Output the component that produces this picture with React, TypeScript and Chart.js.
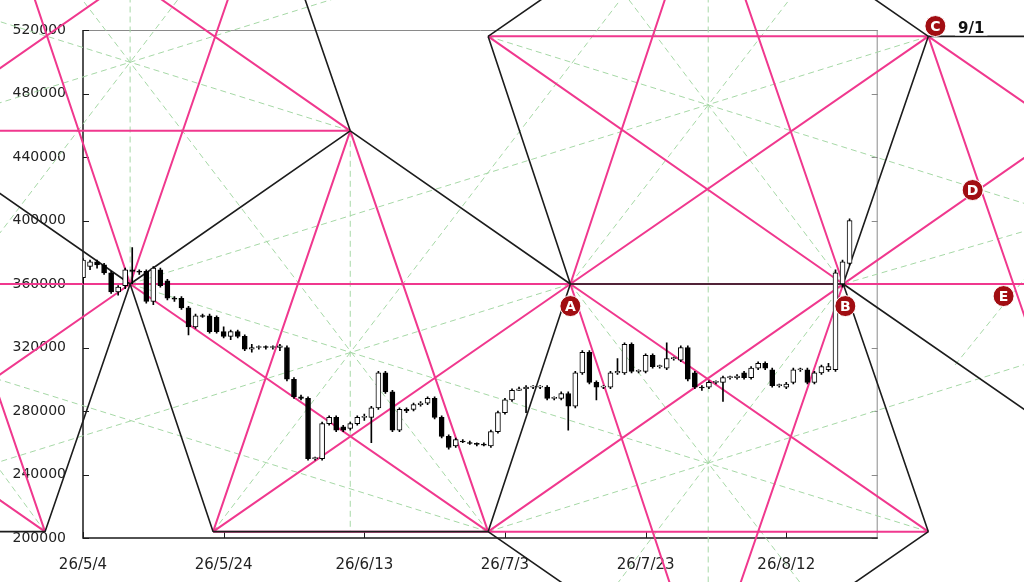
import React, { useEffect, useRef } from "react";
import { Chart, registerables } from "chart.js";

Chart.register(...registerables);

// ---- axis ticks (x = days since 26/5/4) ----
const tickDays = [0, 20, 40, 60, 80, 100];
const tickLabels = ["26/5/4", "26/5/24", "26/6/13", "26/7/3", "26/7/23", "26/8/12"];
const priceTicks = [200000, 240000, 280000, 320000, 360000, 400000, 440000, 480000, 520000];

// ---- daily candles (thousand yen), day index 0 = 26/5/4 ----
const candleOpen = [
  364, 371, 374, 372, 367, 355, 359, 369, 368, 368, 349, 369, 362, 351, 351, 345, 333, 340, 340, 339,
  330, 327, 330, 327, 319, 320, 320.5, 320, 320, 320, 300, 289, 288, 250, 250, 272, 276, 270, 269, 272,
  276, 276, 282, 304, 292, 268, 281, 281, 284, 285, 288, 276, 264, 258, 261, 260, 259.5, 259, 258, 267,
  279, 287, 293, 294, 295, 295, 295, 288, 288, 291, 283, 304, 317, 298, 295, 295, 304, 304, 322, 305,
  305, 315, 308, 307, 313, 312, 320, 304, 295, 295, 298, 298, 301, 301, 304, 301, 307, 310, 306, 296,
  295, 298, 306, 306, 298, 304, 306, 306, 360, 373,
];
const candleHigh = [
  376, 375, 375, 373, 368, 359, 370, 383, 369, 369, 371, 370, 363, 352, 352, 346, 341, 341, 341, 340,
  333, 331, 331, 328, 322, 321, 321, 321, 322, 321, 301, 290, 289, 251, 273, 277, 277, 271, 273, 277,
  278, 283, 305, 305, 293, 282, 282, 285, 286, 289, 289, 277, 265, 263, 262, 261, 260, 260, 268, 280,
  288, 294, 295, 296, 296, 296, 296, 289, 292, 292, 305, 318, 318, 299, 296, 305, 313, 323, 323, 306,
  316, 316, 309, 323, 314, 321, 321, 305, 296, 299, 299, 302, 302, 303, 305, 308, 311, 311, 307, 297,
  298, 307, 307, 307, 305, 309, 310, 369, 375, 401,
];
const candleLow = [
  360, 369, 370, 366, 354, 353, 357, 360, 366, 348, 347, 358, 350, 349, 344, 328, 332, 339, 329, 329,
  326, 325, 326, 318, 317, 319, 319, 319, 318, 299, 288, 287, 249, 249, 249, 271, 267, 267, 268, 271,
  274, 260, 281, 291, 267, 267, 279, 280, 283, 284, 275, 263, 256, 257, 260, 259, 258, 258, 257, 266,
  278, 286, 293, 279, 294, 294, 287, 287, 287, 268, 282, 303, 297, 287, 294, 294, 303, 303, 304, 304,
  304, 307, 307, 306, 312, 311, 299, 294, 293, 294, 297, 286, 300, 300, 300, 300, 306, 306, 295, 295,
  294, 297, 305, 297, 297, 303, 305, 305, 358, 372,
];
const candleClose = [
  375, 374, 372, 367, 355, 358, 369, 368, 367.5, 349, 370, 359, 351, 350.5, 345, 333, 340, 339.5, 330, 330,
  327, 330, 327, 319, 320, 320.5, 320, 320.5, 321, 300, 289, 288, 250, 250.5, 272, 276, 268, 268, 272, 276,
  276.5, 282, 304, 292, 268, 281, 280, 284, 285, 288, 276, 264, 257, 262, 260.5, 259.5, 259, 258.5, 267, 279,
  287, 293, 294, 295, 295.5, 295.5, 288, 288.5, 291, 283, 304, 317, 298, 295, 295.5, 304, 305, 322, 305, 305.5,
  315, 308, 308.5, 313, 313.5, 320, 300, 295, 294.5, 298, 298.5, 301, 301.5, 302, 301, 307, 310, 307, 296, 296.5,
  297, 306, 306.5, 298, 304, 308, 308, 367, 374, 400,
];
const PRICE_UNIT = 1000;

// ---- geometry: segments [day1, price1, day2, price2] ----
const pinkSegments = [
  [-20, 360000, 140, 360000],
  [-20, 456500, 38.0, 456500],
  [57.6, 516000, 120.2, 516000],
  [18.5, 204000, 120.2, 204000],
  [-24.6, 456500, 6.7, 553000],
  [6.7, 553000, 38.0, 456500],
  [6.7, 360000, -16.9, 672000],
  [6.7, 360000, 30.9, 672000],
  [6.7, 360000, -24.6, 263500],
  [38.0, 456500, 18.5, 204000],
  [38.0, 456500, 57.6, 204000],
  [18.5, 204000, 69.3, 360000],
  [6.7, 360000, 57.6, 204000],
  [69.3, 360000, 120.2, 204000],
  [57.6, 204000, 138.4, 453600],
  [57.6, 516000, 108.1, 360000],
  [69.3, 360000, 120.2, 516000],
  [69.3, 360000, 86.85, 126000],
  [69.3, 360000, 86.85, 594000],
  [108.1, 360000, 89.95, 594000],
  [108.1, 360000, 89.95, 126000],
  [120.2, 516000, 145.65, 438000],
  [120.2, 516000, 144.4, 204000],
  [-5.4, 204000, -17.4, 360000],
  [-5.4, 204000, -36.7, 300500],
];

const blackSegments = [
  [6.7, 360000, -24.6, 456500],
  [6.7, 360000, 38.0, 456500],
  [38.0, 456500, 69.3, 360000],
  [38.0, 456500, 28.2, 582750],
  [6.7, 360000, -5.4, 204000],
  [6.7, 360000, 18.5, 204000],
  [18.5, 204000, 57.6, 204000],
  [57.6, 516000, 69.3, 360000],
  [69.3, 360000, 57.6, 204000],
  [69.3, 360000, 108.1, 360000],
  [108.1, 360000, 120.2, 516000],
  [120.2, 516000, 104.93, 562800],
  [120.2, 516000, 140, 516000],
  [108.1, 360000, 120.2, 204000],
  [108.1, 360000, 138.6, 266400],
  [120.2, 204000, 94.75, 126000],
  [57.6, 204000, 83.05, 126000],
  [57.6, 516000, 83.05, 594000],
  [-5.4, 204000, -20, 204000],
];

const greenSegments = [
  [6.7, 560000, 6.7, 360000],
  [38.0, 456500, -15.2, 529940],
  [-24.6, 456500, 44.3, 551540],
  [57.6, 204000, -3.5, 558840],
  [16.88, 558840, -18.75, 351850],
  [38.0, 456500, 38.0, 204000],
  [6.7, 360000, 120.2, 204000],
  [69.3, 360000, -12.1, 247680],
  [6.7, 360000, 120.2, 516000],
  [57.6, 516000, 135.85, 408000],
  [88.9, 560000, 88.9, 160000],
  [108.1, 360000, 73.54, 563040],
  [69.3, 360000, 104.6, 563040],
  [69.3, 360000, 102.6, 168240],
  [108.1, 360000, 75.46, 168240],
  [57.6, 204000, 135.85, 312000],
  [18.5, 204000, 80.9, 564960],
  [57.6, 204000, -15, 304000],
  [-5.4, 204000, -14, 231000],
  [-5.4, 204000, -13, 250000],
  [108.1, 360000, 136, 396000],
  [124.0, 309000, 134, 364000],
];

// ---- annotations ----
const markerLetters = ["A", "B", "C", "D", "E"];
const markerDays = [69.3, 108.4, 121.2, 126.5, 130.9];
const markerPrices = [346100, 346100, 522500, 419200, 352400];
const dateNoteText = "9/1";
const dateNoteDay = 126.3;
const dateNotePrice = 520300;

function segmentsToData(segs: number[][]) {
  const out: { x: number; y: number | null }[] = [];
  segs.forEach((s) => {
    out.push({ x: s[0], y: s[1] });
    out.push({ x: s[2], y: s[3] });
    out.push({ x: s[2], y: null });
  });
  return out;
}

const framePlugin = {
  id: "frame",
  beforeDatasetsDraw(chart: any) {
    const { ctx, chartArea: a, scales } = chart;
    ctx.save();
    ctx.lineWidth = 1;
    ctx.strokeStyle = "#8a8a8a";
    ctx.beginPath();
    ctx.moveTo(a.left, a.top + 0.5);
    ctx.lineTo(a.right, a.top + 0.5);
    ctx.moveTo(a.right - 0.5, a.top);
    ctx.lineTo(a.right - 0.5, a.bottom);
    priceTicks.forEach((v) => {
      const y = Math.round(scales.y.getPixelForValue(v)) + 0.5;
      ctx.moveTo(a.right - 6, y);
      ctx.lineTo(a.right, y);
    });
    ctx.stroke();
    ctx.strokeStyle = "#1a1a1a";
    ctx.lineWidth = 1.5;
    ctx.beginPath();
    ctx.moveTo(a.left, a.top);
    ctx.lineTo(a.left, a.bottom);
    ctx.lineTo(a.right, a.bottom);
    ctx.stroke();
    ctx.lineWidth = 1;
    ctx.beginPath();
    priceTicks.forEach((v) => {
      const y = Math.round(scales.y.getPixelForValue(v)) + 0.5;
      ctx.moveTo(a.left, y);
      ctx.lineTo(a.left + 6, y);
    });
    tickDays.forEach((d) => {
      const x = Math.round(scales.x.getPixelForValue(d)) + 0.5;
      ctx.moveTo(x, a.bottom);
      ctx.lineTo(x, a.bottom - 6);
    });
    ctx.stroke();
    ctx.restore();
  },
};

const notePlugin = {
  id: "notes",
  afterDatasetsDraw(chart: any) {
    const { ctx, scales } = chart;
    ctx.save();
    const nx = scales.x.getPixelForValue(dateNoteDay);
    const ny = scales.y.getPixelForValue(dateNotePrice);
    ctx.font = "bold 15px 'DejaVu Sans'";
    const w = ctx.measureText(dateNoteText).width;
    ctx.fillStyle = "#ffffff";
    ctx.fillRect(nx - w / 2 - 3, ny - 9, w + 6, 15);
    ctx.fillStyle = "#111111";
    ctx.textAlign = "center";
    ctx.textBaseline = "middle";
    ctx.fillText(dateNoteText, nx, ny);
    markerLetters.forEach((t, i) => {
      const x = scales.x.getPixelForValue(markerDays[i]);
      const y = scales.y.getPixelForValue(markerPrices[i]);
      ctx.beginPath();
      ctx.arc(x, y, 10.5, 0, Math.PI * 2);
      ctx.fillStyle = "#a10d12";
      ctx.fill();
      ctx.lineWidth = 1;
      ctx.strokeStyle = "#ffffff";
      ctx.stroke();
      ctx.fillStyle = "#ffffff";
      ctx.font = "bold 14px 'DejaVu Sans'";
      ctx.textAlign = "center";
      ctx.textBaseline = "middle";
      ctx.fillText(t, x, y + 1);
    });
    ctx.restore();
  },
};

export default function App() {
  const canvasRef = useRef<HTMLCanvasElement | null>(null);

  useEffect(() => {
    document.body.style.margin = "0";
    const canvas = canvasRef.current;
    if (!canvas) return;

    const bodies = candleOpen.map((o, i) => ({
      x: i,
      y: [o * PRICE_UNIT, candleClose[i] * PRICE_UNIT],
    }));
    const bodyColors = candleOpen.map((o, i) => (candleClose[i] >= o ? "#ffffff" : "#000000"));
    const wicks = candleLow.map((l, i) => ({ x: i, y: [l * PRICE_UNIT, candleHigh[i] * PRICE_UNIT] }));

    const lineCommon = {
      type: "line" as const,
      pointRadius: 0,
      pointHoverRadius: 0,
      fill: false,
      tension: 0,
      clip: false as any,
      spanGaps: false,
    };

    const chart = new Chart(canvas, {
      type: "bar",
      data: {
        datasets: [
          {
            type: "bar",
            data: bodies as any,
            backgroundColor: bodyColors,
            borderColor: "#000000",
            borderWidth: 1,
            borderSkipped: false,
            barThickness: 5,
            grouped: false,
            minBarLength: 1,
          } as any,
          {
            type: "bar",
            data: wicks as any,
            backgroundColor: "#000000",
            borderWidth: 0,
            barThickness: 1,
            grouped: false,
          } as any,
          {
            ...lineCommon,
            data: segmentsToData(blackSegments) as any,
            borderColor: "#1c1c1c",
            borderWidth: 1.6,
          } as any,
          {
            ...lineCommon,
            data: segmentsToData(pinkSegments) as any,
            borderColor: "#f0388e",
            borderWidth: 2,
          } as any,
          {
            ...lineCommon,
            data: segmentsToData(greenSegments) as any,
            borderColor: "#a6d8a6",
            borderWidth: 1,
            borderDash: [6, 4],
          } as any,
        ],
      },
      options: {
        responsive: false,
        devicePixelRatio: 1,
        animation: false,
        events: [],
        layout: { padding: { left: 0, top: 30, right: 146.3, bottom: 0 } },
        plugins: { legend: { display: false }, tooltip: { enabled: false } },
        scales: {
          x: {
            type: "linear",
            min: 0,
            max: 113,
            offset: false,
            grid: { display: false },
            border: { display: false },
            afterBuildTicks: (s: any) => {
              s.ticks = tickDays.map((v) => ({ value: v }));
            },
            afterFit: (s: any) => {
              s.height = 44;
            },
            ticks: {
              autoSkip: false,
              maxRotation: 0,
              minRotation: 0,
              padding: 10,
              color: "#222222",
              font: { family: "'DejaVu Sans'", size: 15 },
              callback: (_v: any, i: number) => tickLabels[i],
            },
          },
          y: {
            type: "linear",
            min: 200000,
            max: 520000,
            beginAtZero: false,
            grid: { display: false, drawTicks: false },
            border: { display: false },
            afterBuildTicks: (s: any) => {
              s.ticks = priceTicks.map((v) => ({ value: v }));
            },
            afterFit: (s: any) => {
              s.width = 83;
            },
            ticks: {
              padding: 17,
              color: "#222222",
              font: { family: "'DejaVu Sans'", size: 14 },
              callback: (v: any) => String(v),
            },
          },
        },
      } as any,
      plugins: [framePlugin, notePlugin],
    });

    return () => chart.destroy();
  }, []);

  return (
    <div style={{ position: "absolute", left: 0, top: 0, width: 1024, height: 582, background: "#ffffff" }}>
      <canvas ref={canvasRef} width={1024} height={582} style={{ display: "block", width: 1024, height: 582 }} />
    </div>
  );
}
